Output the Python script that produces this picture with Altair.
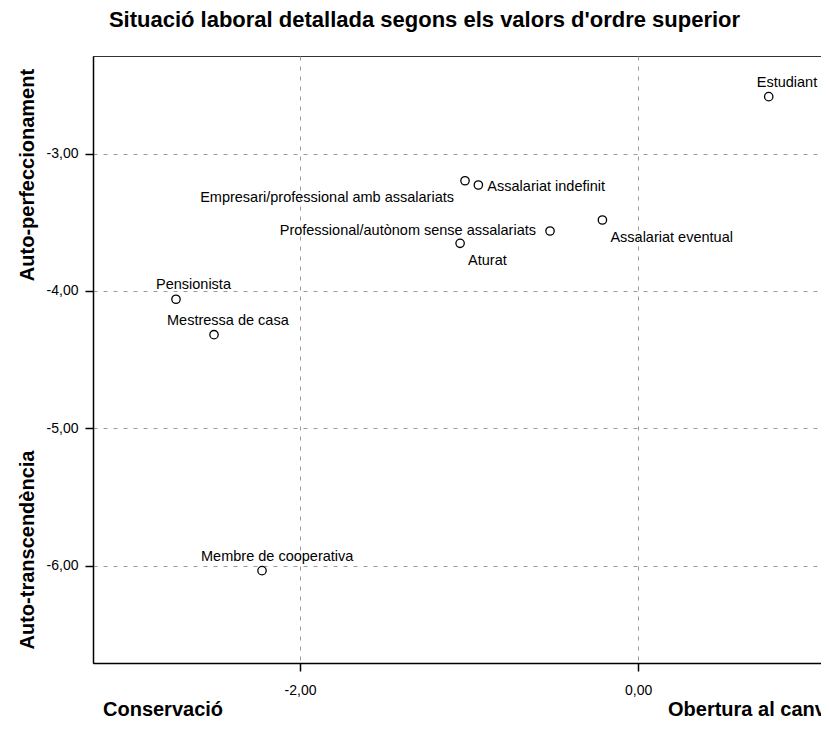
import altair as alt
import pandas as pd

# ---- data ----
categories = [
    "Estudiant",
    "Empresari/professional amb assalariats",
    "Assalariat indefinit",
    "Professional/autònom sense assalariats",
    "Assalariat eventual",
    "Aturat",
    "Pensionista",
    "Mestressa de casa",
    "Membre de cooperativa",
]
obertura = [0.773, -1.024, -0.945, -0.521, -0.211, -1.053, -2.734, -2.509, -2.225]
autoperf = [-2.585, -3.197, -3.228, -3.563, -3.483, -3.653, -4.060, -4.318, -6.036]

x_ticks = [-2, 0]
y_ticks = [-6, -5, -4, -3]

title_text = "Situació laboral detallada segons els valors d'ordre superior"
y_title_top = "Auto-perfeccionament"
y_title_bottom = "Auto-transcendència"
x_title_left = "Conservació"
x_title_right = "Obertura al canvi"

df = pd.DataFrame({"cat": categories, "x": obertura, "y": autoperf})

# ---- styling ----
FONT = "Liberation Sans"
W, H = 767, 607
X_DOMAIN = [-3.225, 1.313]
Y_DOMAIN = [-6.7085, -2.289]

label_expr = "(datum.value < 0 ? '-' : '') + replace(format(abs(datum.value), '.2f'), '.', ',')"

xscale = alt.Scale(domain=X_DOMAIN, nice=False, zero=False)
yscale = alt.Scale(domain=Y_DOMAIN, nice=False, zero=False)

axis_common = dict(
    grid=True, gridDash=[4, 6], gridColor="#9a9a9a", gridWidth=1,
    domainColor="black", domainWidth=1.5,
    tickColor="black", tickWidth=1.5, tickSize=8,
    labelFont=FONT, labelFontSize=14, labelColor="black",
    labelExpr=label_expr, title=None,
)

base = alt.Chart(df)

points = base.mark_point(
    shape="circle", filled=False, stroke="black", strokeWidth=1.3, size=70, opacity=1
).encode(
    x=alt.X("x:Q", scale=xscale, axis=alt.Axis(values=x_ticks, labelPadding=12, **axis_common)),
    y=alt.Y("y:Q", scale=yscale, axis=alt.Axis(values=y_ticks, labelPadding=7, **axis_common)),
)

# label placement (style, not data): align, dx, dy
label_style = {
    "Estudiant": ("left", -12, -14),
    "Empresari/professional amb assalariats": ("right", -11, 17),
    "Assalariat indefinit": ("left", 9, 2),
    "Professional/autònom sense assalariats": ("right", -14, 0),
    "Assalariat eventual": ("left", 8, 18),
    "Aturat": ("left", 8, 18),
    "Pensionista": ("left", -20, -14),
    "Mestressa de casa": ("left", -47, -14),
    "Membre de cooperativa": ("left", -61, -14),
}

label_layers = []
for cat, (al, dx, dy) in label_style.items():
    label_layers.append(
        base.transform_filter(alt.datum.cat == cat).mark_text(
            align=al, baseline="middle", dx=dx, dy=dy,
            font=FONT, fontSize=14.5, color="black",
        ).encode(
            x=alt.X("x:Q", scale=xscale),
            y=alt.Y("y:Q", scale=yscale),
            text="cat:N",
        )
    )


def annot(text, x, y, size, align="center", angle=0):
    return alt.Chart(pd.DataFrame({"t": [text]})).mark_text(
        align=align, baseline="middle", font=FONT, fontSize=size,
        fontWeight="bold", color="black", angle=angle,
    ).encode(x=alt.value(x), y=alt.value(y), text="t:N")


annots = [
    annot(title_text, 331.5, -36.5, 22),
    annot(y_title_top, -65, 119, 20, angle=270),
    annot(y_title_bottom, -65, 494, 20, angle=270),
    annot(x_title_left, 10, 654, 20, align="left"),
    annot(x_title_right, 575, 654, 20, align="left"),
]

chart = alt.layer(points, *label_layers, *annots).properties(
    width=W,
    height=H,
    autosize=alt.AutoSizeParams(type="none"),
    padding={"left": 85, "top": 48, "right": -39, "bottom": 59},
).configure_view(stroke="#333333", strokeWidth=1)

chart.save("out.html", embed_options={"renderer": "svg", "actions": False})
